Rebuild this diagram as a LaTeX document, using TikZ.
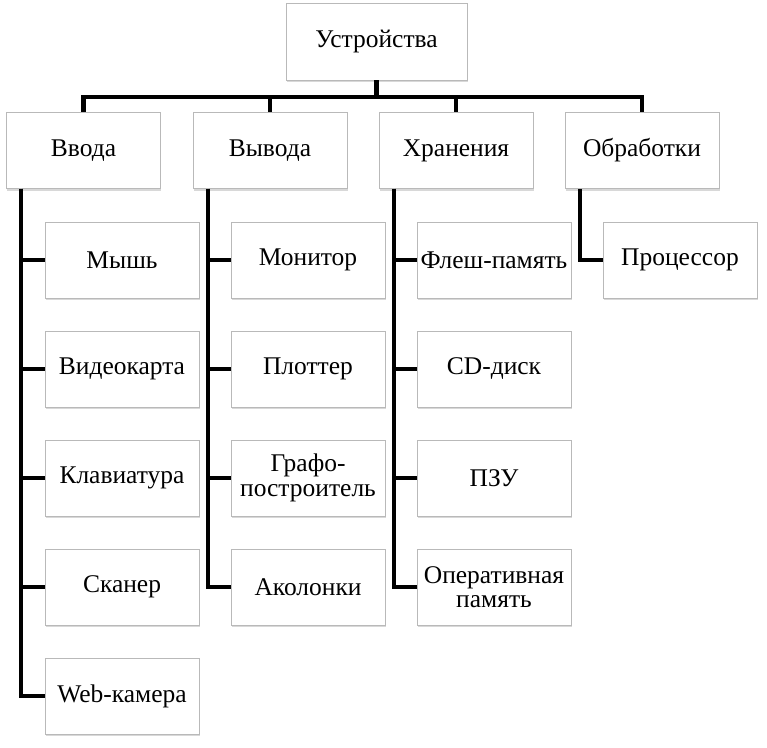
\documentclass[tikz,border=0pt]{standalone}
\usepackage{fontspec}
\setmainfont{Liberation Serif}
\newfontfamily\timesfont{Liberation Serif}
\usetikzlibrary{shadows}

\begin{document}
\begin{tikzpicture}[
		box/.style={draw=gray!55, line width=0.4pt, fill=white, align=center,
			minimum width=3.08cm, minimum height=1.52cm, inner sep=1pt,
			font=\timesfont\fontsize{14.5}{14}\selectfont,
			drop shadow={shadow xshift=0.5pt, shadow yshift=-1.2pt, fill=gray!60}},
		link/.style={line width=2.3pt},
	]
	\useasboundingbox (0,0) rectangle (15.34,-14.94);
	\node[box, minimum width=3.62cm, minimum height=1.54cm] (dev) at (7.53,-0.83) {Устройства};
	% second level
	\node[box] (in)    at (1.67,-3.01)  {Ввода};
	\node[box] (out)   at (5.40,-3.01)  {Вывода};
	\node[box] (store) at (9.12,-3.01)  {Хранения};
	\node[box] (proc)  at (12.84,-3.01) {Обработки};
	% input devices
	\node[box] (mouse) at (2.44,-5.20)  {Мышь};
	\node[box] (video) at (2.44,-7.38)  {Видеокарта};
	\node[box] (keyb)  at (2.44,-9.56)  {Клавиатура};
	\node[box] (scan)  at (2.44,-11.74) {Сканер};
	\node[box] (cam)   at (2.44,-13.92) {Web-камера};
	% output devices
	\node[box] (mon)   at (6.16,-5.20)  {Монитор};
	\node[box] (plot)  at (6.16,-7.38)  {Плоттер};
	\node[box] (graph) at (6.16,-9.56)  {Графо-\\построитель};
	\node[box] (spk)   at (6.16,-11.74) {Аколонки};
	% storage
	\node[box] (flash) at (9.88,-5.20)  {Флеш-память};
	\node[box] (cd)    at (9.88,-7.38)  {CD-диск};
	\node[box] (rom)   at (9.88,-9.56)  {ПЗУ};
	\node[box] (ram)   at (9.88,-11.74) {Оперативная\\память};
	% processing
	\node[box] (cpu)   at (13.60,-5.20) {Процессор};

	\draw[link] (dev.south) -- ++(0,-0.33) -| (in.north);
	\draw[link] (dev.south) -- ++(0,-0.33) -| (out.north);
	\draw[link] (dev.south) -- ++(0,-0.33) -| (store.north);
	\draw[link] (dev.south) -- ++(0,-0.33) -| (proc.north);

	\foreach \c in {mouse, video, keyb, scan, cam}
		\draw[link] ([xshift=0.3cm]in.south west) |- (\c.west);
	\foreach \c in {mon, plot, graph, spk}
		\draw[link] ([xshift=0.3cm]out.south west) |- (\c.west);
	\foreach \c in {flash, cd, rom, ram}
		\draw[link] ([xshift=0.3cm]store.south west) |- (\c.west);
	\draw[link] ([xshift=0.3cm]proc.south west) |- (cpu.west);
\end{tikzpicture}
\end{document}
